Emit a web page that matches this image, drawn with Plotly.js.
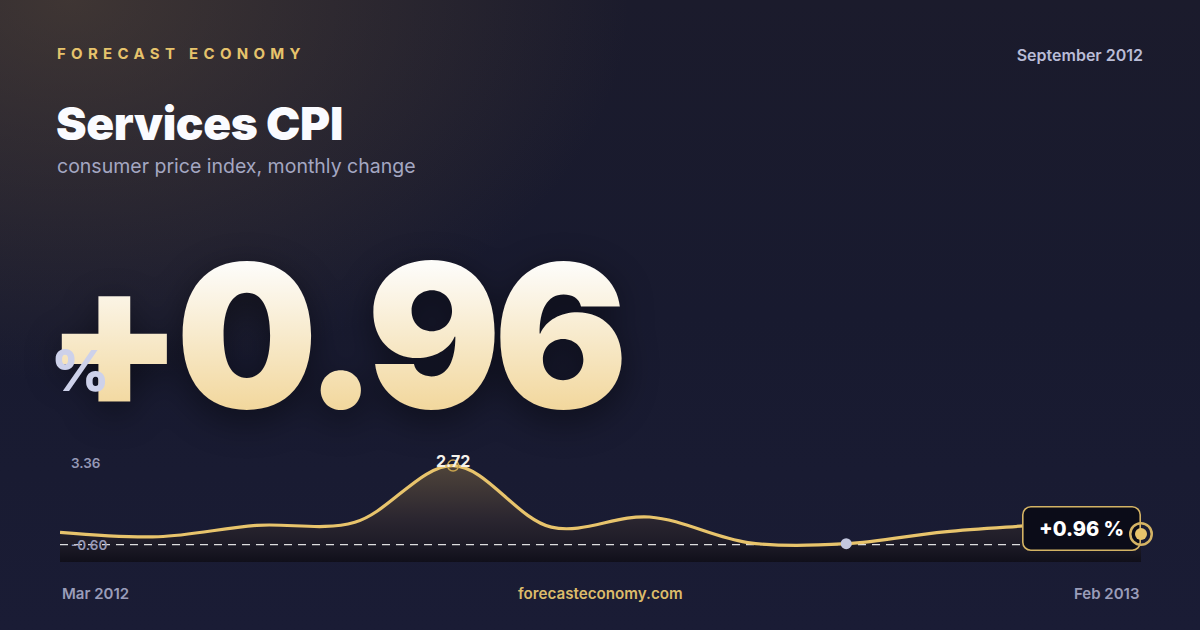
<!DOCTYPE html>
<html>
<head>
<meta charset="utf-8">
<script src="https://cdn.plot.ly/plotly-3.0.1.min.js"></script>
<style>
  html, body { margin: 0; padding: 0; }
  body {
    width: 1200px; height: 630px; overflow: hidden; position: relative;
    font-family: Inter, "Noto Sans", sans-serif;
    background:
      radial-gradient(ellipse 560px 380px at 70px 0px, rgba(112, 90, 62, 0.42), rgba(112, 90, 62, 0) 100%),
      linear-gradient(180deg, #1b1b2c 0%, #181a2f 50%, #1a1c35 100%);
  }
  .brand { position: absolute; left: 57px; top: 44px; font-size: 15px; font-weight: 700; letter-spacing: 5.3px; color: #e6c36c; }
  .date { position: absolute; right: 57px; top: 45px; font-size: 16px; font-weight: 600; color: #b9bcd6; }
  h1 { position: absolute; left: 56px; top: 100px; margin: 0; font-size: 46px; font-weight: 900; line-height: 1; letter-spacing: -0.4px; color: #fafbff; }
  .sub { position: absolute; left: 57px; top: 154px; font-size: 19.5px; color: #a4a7c2; }
  .big {
    position: absolute; left: 45px; top: 235px; padding-right: 30px;
    font-size: 200px; font-weight: 900; line-height: 1; letter-spacing: -8px;
    background: linear-gradient(180deg, #fdfcf9 15%, #f2d79c 88%);
    -webkit-background-clip: text; background-clip: text; color: transparent;
    filter: drop-shadow(0 10px 18px rgba(0, 0, 0, 0.45));
  }
  .pct { position: absolute; left: 51px; top: 342px; font-size: 57px; font-weight: 800; line-height: 1; color: #cdd1ea; }
  #chart { position: absolute; left: 0; top: 0; width: 1200px; height: 630px; }
</style>
</head>
<body>
<div class="brand">FORECAST ECONOMY</div>
<div class="date">September 2012</div>
<h1>Services CPI</h1>
<div class="sub">consumer price index, monthly change</div>
<div class="big">+0.96</div>
<div class="pct">%</div>
<div id="chart"></div>
<script>
// monthly change, %
var months = ["Mar 2012", "Apr 2012", "May 2012", "Jun 2012", "Jul 2012", "Aug 2012",
              "Sep 2012", "Oct 2012", "Nov 2012", "Dec 2012", "Jan 2013", "Feb 2013"];
var cpiChange = [0.42, 0.27, 0.66, 0.77, 2.72, 0.60, 0.95, 0.07, 0.03, 0.44, 0.69, 0.96];
var yRange = [-0.60, 3.36];
var siteLabel = "forecasteconomy.com";

var gold = "#e8c46c";
var last = cpiChange.length - 1;
var peakIdx = cpiChange.indexOf(Math.max.apply(null, cpiChange));
var lowIdx = cpiChange.indexOf(Math.min.apply(null, cpiChange));
var lastText = (cpiChange[last] >= 0 ? "+" : "") + cpiChange[last].toFixed(2) + " %";

var base = {
  x: months, y: months.map(function () { return yRange[0]; }),
  type: "scatter", mode: "lines", line: { width: 0 }, hoverinfo: "skip", showlegend: false
};
var area = {
  x: months, y: cpiChange, type: "scatter", mode: "lines",
  line: { width: 0, shape: "spline", smoothing: 1 },
  fill: "tonexty",
  fillgradient: {
    type: "vertical", start: yRange[0], stop: cpiChange[peakIdx],
    colorscale: [[0, "#100f1a"], [0.18, "#1d1b27"], [0.45, "#2b2630"], [1, "#4f443a"]]
  },
  hoverinfo: "skip", showlegend: false
};
var zeroLine = {
  x: months, y: months.map(function () { return 0; }),
  type: "scatter", mode: "lines",
  line: { color: "rgba(255,255,255,0.85)", width: 1.2, dash: "8px,6px" },
  hoverinfo: "skip", showlegend: false
};
var line = {
  x: months, y: cpiChange, type: "scatter", mode: "lines",
  line: { color: gold, width: 3.2, shape: "spline", smoothing: 1 },
  hoverinfo: "skip", showlegend: false
};
var peakMark = {
  x: [months[peakIdx]], y: [cpiChange[peakIdx]], type: "scatter", mode: "markers",
  marker: { symbol: "circle-open", size: 11, color: "#c9a44e", line: { width: 1.5 } },
  hoverinfo: "skip", showlegend: false
};
var lowMark = {
  x: [months[lowIdx]], y: [cpiChange[lowIdx]], type: "scatter", mode: "markers",
  marker: { size: 11, color: "#c3c7de" },
  hoverinfo: "skip", showlegend: false
};

var labelFont = { family: "Inter", size: 13.5, color: "#9699b6", weight: 600 };
var footFont = { family: "Inter", size: 15, color: "#9a9db9", weight: 600 };
var annotations = [
  { xref: "paper", x: 0.008, xanchor: "left", y: yRange[1], yanchor: "top", yshift: -6,
    text: yRange[1].toFixed(2), showarrow: false, font: labelFont },
  { xref: "paper", x: 0.008, xanchor: "left", y: yRange[0], yanchor: "bottom", yshift: 7,
    text: yRange[0].toFixed(2), showarrow: false, font: labelFont },
  { x: months[peakIdx], y: cpiChange[peakIdx], yanchor: "middle", yshift: 5,
    text: cpiChange[peakIdx].toFixed(2), showarrow: false,
    font: { family: "Inter", size: 16, color: "#f4f1ea", weight: 700 } },
  { x: months[0], y: 0, yref: "paper", xanchor: "left", yanchor: "top", yshift: -20,
    text: months[0], showarrow: false, font: footFont },
  { x: months[last], y: 0, yref: "paper", xanchor: "right", yanchor: "top", yshift: -20,
    text: months[last], showarrow: false, font: footFont },
  { xref: "paper", x: 0.5, y: 0, yref: "paper", xanchor: "center", yanchor: "top", yshift: -20,
    text: siteLabel, showarrow: false, font: { family: "Inter", size: 15.2, color: "#dcbb6a", weight: 600 } }
];
// callout box and end marker (rounded after drawing)
var rounded = {};
rounded[annotations.length] = 8;
annotations.push({ x: months[last], y: cpiChange[last], xanchor: "right", yanchor: "middle", yshift: -12,
  text: lastText, showarrow: false, width: 116, height: 42, borderpad: 0,
  bgcolor: "#0b0c18", bordercolor: "#d4b364", borderwidth: 1.6,
  font: { family: "Inter", size: 20, color: "#ffffff", weight: 800 } });
rounded[annotations.length] = 11;
annotations.push({ x: months[last], y: cpiChange[last], xanchor: "center", yanchor: "middle", yshift: -17,
  text: " ", showarrow: false, width: 19, height: 19, borderpad: 0,
  bordercolor: "#d4b364", borderwidth: 2.5, bgcolor: "rgba(0,0,0,0)" });
rounded[annotations.length] = 6;
annotations.push({ x: months[last], y: cpiChange[last], xanchor: "center", yanchor: "middle", yshift: -17,
  text: " ", showarrow: false, width: 12, height: 12, borderpad: 0,
  bgcolor: "#e8c46c", borderwidth: 0 });

var layout = {
  width: 1200, height: 630,
  margin: { l: 60, r: 59, t: 447, b: 68 },
  paper_bgcolor: "rgba(0,0,0,0)", plot_bgcolor: "rgba(0,0,0,0)",
  showlegend: false,
  xaxis: { type: "category", range: [0, last], visible: false, fixedrange: true },
  yaxis: { range: yRange, visible: false, fixedrange: true },
  annotations: annotations
};

Plotly.newPlot("chart", [base, area, zeroLine, line, peakMark, lowMark], layout, { displayModeBar: false, staticPlot: true })
  .then(function (gd) {
    gd.querySelectorAll(".annotation").forEach(function (a) {
      var r = rounded[+a.getAttribute("data-index")];
      if (r) {
        var bg = a.querySelector("rect.bg");
        if (bg) { bg.setAttribute("rx", r); bg.setAttribute("ry", r); }
      }
    });
  });
</script>
</body>
</html>
